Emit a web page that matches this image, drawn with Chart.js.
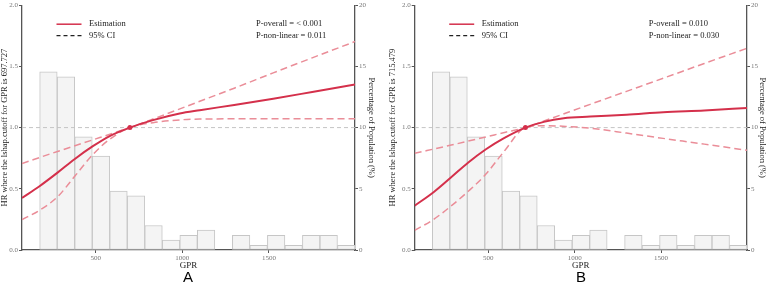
<!DOCTYPE html>
<html>
<head>
<meta charset="utf-8">
<script src="https://cdn.jsdelivr.net/npm/chart.js@4/dist/chart.umd.min.js"></script>
<style>
  html, body { margin: 0; padding: 0; background: #fff; }
  #wrap { position: relative; width: 777px; height: 285px; overflow: hidden; }
  canvas { position: absolute; top: 0; }
  #chartA { left: 0; }
  #chartB { left: 388px; }
  .panel-tag { position: absolute; top: 268px; font: 15px "Liberation Sans", Arial, sans-serif; color: #000; transform: translateX(-50%); }
</style>
</head>
<body>
<div id="wrap">
  <canvas id="chartA" width="376" height="285"></canvas>
  <canvas id="chartB" width="379" height="285"></canvas>
  <div class="panel-tag" style="left:188px">A</div>
  <div class="panel-tag" style="left:581px">B</div>
</div>
<script>
// histogram (share of population, %), same bins in both panels
const binMid = [227.6, 328.7, 429.8, 530.9, 632.0, 733.1, 834.2, 935.3, 1036.4, 1137.5, 1238.6, 1339.7, 1440.8, 1541.9, 1643.0, 1744.1, 1845.2, 1946.3];
const popPct = [14.55, 14.15, 9.25, 7.68, 4.82, 4.42, 2.0, 0.81, 1.19, 1.62, 0, 1.19, 0.38, 1.19, 0.38, 1.19, 1.19, 0.38];
const xTicks = [500, 1000, 1500];

// panel A curves
const estA_x = [75, 176, 282, 378, 484, 581, 697.727, 831, 985, 1101, 1300, 1525, 1750, 1997];
const estA_y = [0.425, 0.521, 0.634, 0.742, 0.848, 0.931, 1.0, 1.061, 1.115, 1.142, 1.185, 1.236, 1.291, 1.352];
const upA_x = [75, 280, 484, 600, 697.727, 850, 1101, 1300, 1525, 1750, 1997];
const upA_y = [0.707, 0.805, 0.9, 0.954, 1.0, 1.08, 1.215, 1.322, 1.447, 1.57, 1.703];
const loA_x = [75, 176, 282, 378, 484, 581, 697.727, 831, 985, 1101, 1500, 1997];
const loA_y = [0.248, 0.324, 0.437, 0.6, 0.78, 0.905, 1.0, 1.04, 1.063, 1.07, 1.072, 1.072];

// panel B curves
const estB_x = [75, 184, 286, 385, 487, 589, 715.479, 822, 937, 1090, 1300, 1512, 1750, 1997];
const estB_y = [0.362, 0.472, 0.594, 0.715, 0.823, 0.912, 1.0, 1.047, 1.077, 1.09, 1.105, 1.125, 1.14, 1.16];
const upB_x = [75, 286, 487, 600, 715.479, 850, 1090, 1300, 1512, 1750, 1997];
const upB_y = [0.79, 0.857, 0.924, 0.962, 1.0, 1.068, 1.19, 1.296, 1.403, 1.524, 1.648];
const loB_x = [75, 184, 286, 385, 487, 589, 715.479, 822, 950, 1090, 1300, 1512, 1750, 1997];
const loB_y = [0.16, 0.25, 0.36, 0.48, 0.62, 0.8, 1.0, 1.015, 1.01, 0.995, 0.955, 0.912, 0.865, 0.815];

const xMin = 75, xMax = 1997;
const RED = '#d4304b';
const PINK = '#ea8d98';
const AXIS = '#555';
const SERIF = '"Liberation Serif", "Times New Roman", serif';

const pts = (xs, ys) => xs.map((x, i) => ({ x, y: ys[i] }));

// legend and p-values drawn inside the plot
const notePlugin = {
    id: 'notes',
    afterDatasetsDraw(chart, args, opts) {
        const { ctx, chartArea } = chart;
        const L = chartArea.left, T = chartArea.top;
        ctx.save();
        ctx.font = `8.5px ${SERIF}`;
        ctx.fillStyle = '#222';
        ctx.textBaseline = 'middle';
        const y1 = T + 19, y2 = T + 30.5;

        ctx.strokeStyle = RED;
        ctx.lineWidth = 1.5;
        ctx.beginPath(); ctx.moveTo(L + 34.5, y1); ctx.lineTo(L + 59.5, y1); ctx.stroke();
        ctx.strokeStyle = '#222';
        ctx.lineWidth = 1.2;
        ctx.setLineDash([4, 3]);
        ctx.beginPath(); ctx.moveTo(L + 34.5, y2); ctx.lineTo(L + 59.5, y2); ctx.stroke();
        ctx.setLineDash([]);

        ctx.fillText('Estimation', L + 67, y1);
        ctx.fillText('95% CI', L + 67, y2);
        ctx.fillText(opts.p1, L + 234, y1);
        ctx.fillText(opts.p2, L + 234, y2);
        ctx.restore();
    }
};

function createPanel(id, cfg) {
    const ctx = document.getElementById(id).getContext('2d');
    new Chart(ctx, {
        type: 'bar',
        data: {
            datasets: [
                {
                    type: 'line', label: 'Estimation', data: pts(cfg.ex, cfg.ey),
                    borderColor: RED, borderWidth: 2, pointRadius: 0,
                    cubicInterpolationMode: 'monotone', yAxisID: 'y', order: 0
                },
                {
                    type: 'line', label: 'ref', data: [{ x: cfg.cut, y: 1 }],
                    showLine: false, pointRadius: 2.5, pointBackgroundColor: RED,
                    pointBorderWidth: 0, yAxisID: 'y', order: -1
                },
                {
                    type: 'line', label: 'upper', data: pts(cfg.ux, cfg.uy),
                    borderColor: PINK, borderWidth: 1.5, borderDash: [7, 4], pointRadius: 0,
                    cubicInterpolationMode: 'monotone', yAxisID: 'y', order: 1
                },
                {
                    type: 'line', label: 'lower', data: pts(cfg.lx, cfg.ly),
                    borderColor: PINK, borderWidth: 1.5, borderDash: [7, 4], pointRadius: 0,
                    cubicInterpolationMode: 'monotone', yAxisID: 'y', order: 1
                },
                {
                    type: 'line', label: 'HR = 1', data: [{ x: xMin, y: 1 }, { x: xMax, y: 1 }],
                    borderColor: '#c4c4c4', borderWidth: 1, borderDash: [4, 3], pointRadius: 0,
                    yAxisID: 'y', order: 5
                },
                {
                    label: 'Population', data: pts(binMid, popPct),
                    backgroundColor: '#f4f4f4', borderColor: '#c6c6c6', borderWidth: 1,
                    borderSkipped: false, barPercentage: 1, categoryPercentage: 1,
                    yAxisID: 'y2', order: 10
                }
            ]
        },
        options: {
            responsive: false,
            animation: false,
            layout: { padding: 0 },
            plugins: {
                legend: { display: false },
                tooltip: { enabled: false },
                notes: { p1: cfg.p1, p2: cfg.p2 }
            },
            scales: {
                x: {
                    type: 'linear', min: xMin, max: xMax, offset: false,
                    grid: { offset: false, drawOnChartArea: false, color: AXIS, tickLength: 3 },
                    border: { color: AXIS, width: 1.3 },
                    ticks: { color: '#777', padding: 1, font: { size: 7, family: SERIF }, callback: v => String(v) },
                    afterBuildTicks: s => { s.ticks = xTicks.map(v => ({ value: v })); },
                    title: { display: true, text: 'GPR', color: '#222', font: { size: 9, family: SERIF }, padding: { top: 0, bottom: 14 } },
                    afterFit: s => { s.height = 35; }
                },
                y: {
                    position: 'left', min: 0, max: 2,
                    grid: { drawOnChartArea: false, color: AXIS, tickLength: 3 },
                    border: { color: AXIS, width: 1.3 },
                    ticks: { stepSize: 0.5, color: '#777', padding: 1, font: { size: 7, family: SERIF }, callback: v => v.toFixed(1) },
                    title: { display: true, text: cfg.yTitle, color: '#222', font: { size: 8.5, family: SERIF }, padding: 0 },
                    afterFit: s => { s.width = cfg.leftW; }
                },
                y2: {
                    position: 'right', min: 0, max: 20,
                    grid: { drawOnChartArea: false, color: AXIS, tickLength: 3 },
                    border: { color: AXIS, width: 1.3 },
                    ticks: { stepSize: 5, color: '#777', padding: 1, font: { size: 7, family: SERIF } },
                    title: { display: true, text: 'Percentage of Population (%)', color: '#222', font: { size: 8.5, family: SERIF }, padding: 0 },
                    afterFit: s => { s.width = cfg.rightW; }
                }
            }
        },
        plugins: [notePlugin]
    });
}

function init() {
    createPanel('chartA', {
        ex: estA_x, ey: estA_y, ux: upA_x, uy: upA_y, lx: loA_x, ly: loA_y,
        cut: 697.727, yTitle: 'HR where the lshap.cutoff for GPR is 697.727',
        p1: 'P-overall = < 0.001', p2: 'P-non-linear = 0.011',
        leftW: 22, rightW: 21
    });
    createPanel('chartB', {
        ex: estB_x, ey: estB_y, ux: upB_x, uy: upB_y, lx: loB_x, ly: loB_y,
        cut: 715.479, yTitle: 'HR where the lshap.cutoff for GPR is 715.479',
        p1: 'P-overall = 0.010', p2: 'P-non-linear = 0.030',
        leftW: 26.7, rightW: 20
    });
}

document.addEventListener('DOMContentLoaded', init);
</script>
</body>
</html>
